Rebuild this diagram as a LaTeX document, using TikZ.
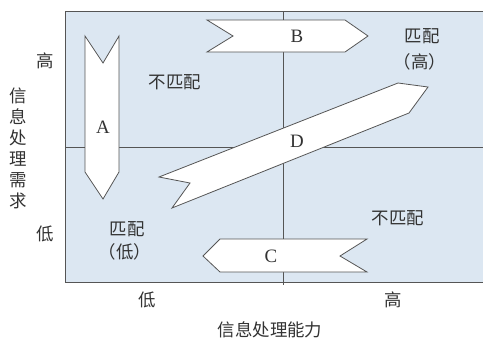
\documentclass[tikz,border=0pt]{standalone}
\usepackage{fontspec}
\setmainfont{Liberation Serif}
\newfontfamily\cjk{Noto Sans CJK SC}
\definecolor{panel}{HTML}{DCE7F2}
\definecolor{edge}{HTML}{555555}
\definecolor{ink}{HTML}{333333}
\begin{document}
\begin{tikzpicture}[x=1bp,y=-1bp,
  lbl/.style={text=ink,font=\cjk\fontsize{17.5}{21}\selectfont,inner sep=0pt,align=center},
  let/.style={text=ink,font=\fontsize{19}{21}\selectfont,inner sep=0pt},
  shp/.style={draw=edge,fill=white,line width=0.8bp,line join=miter}]
\useasboundingbox (0,0) rectangle (483,339);
\fill[white] (0,0) rectangle (483,339);
\fill[panel] (65,11) rectangle (483,282);
\draw[edge,line width=0.8bp] (283,11) -- (283,285);
\draw[edge,line width=0.8bp] (65,147) -- (483,147);
\draw[edge,line width=1bp] (483,11) -- (65,11) -- (65,282) -- (483,282);
% arrows
\draw[shp] (85,36) -- (103,63) -- (119,36) -- (119,172) -- (103,199) -- (85,172) -- cycle;
\draw[shp] (207,20) -- (345,20) -- (368,36) -- (345,52) -- (207,52) -- (233,36) -- cycle;
\draw[shp] (203,256) -- (220,239) -- (367,239) -- (340,256) -- (367,272) -- (220,272) -- cycle;
\draw[shp] (159,177) -- (398,83) -- (428,87) -- (409,113) -- (172,208) -- (190,183) -- cycle;
\node[let] (a) at (103,127) {A};
\node[let] (b) at (297,36) {B};
\node[let] (c) at (271,256) {C};
\node[let] (d) at (297,141) {D};
% region labels
\node[lbl] (nm1) at (175,82) {不匹配};
\node[lbl] (nm2) at (398,218) {不匹配};
\node[lbl] (mh1) at (422,36) {匹配};
\node[lbl] (mh2) at (420,62) {（高）};
\node[lbl] (ml1) at (127,229) {匹配};
\node[lbl] (ml2) at (125,252) {（低）};
% axis labels
\node[lbl] (yh) at (45,61) {高};
\node[lbl] (yl) at (45,234) {低};
\node[lbl] (xl) at (147,300) {低};
\node[lbl] (xh) at (393,300) {高};
\node[lbl] (xt) at (270,330) {信息处理能力};
\foreach \ch [count=\i from 0] in {信,息,处,理,需,求}
  \node[lbl] (yt\i) at (18,96+21*\i) {\ch};
\end{tikzpicture}
\end{document}
